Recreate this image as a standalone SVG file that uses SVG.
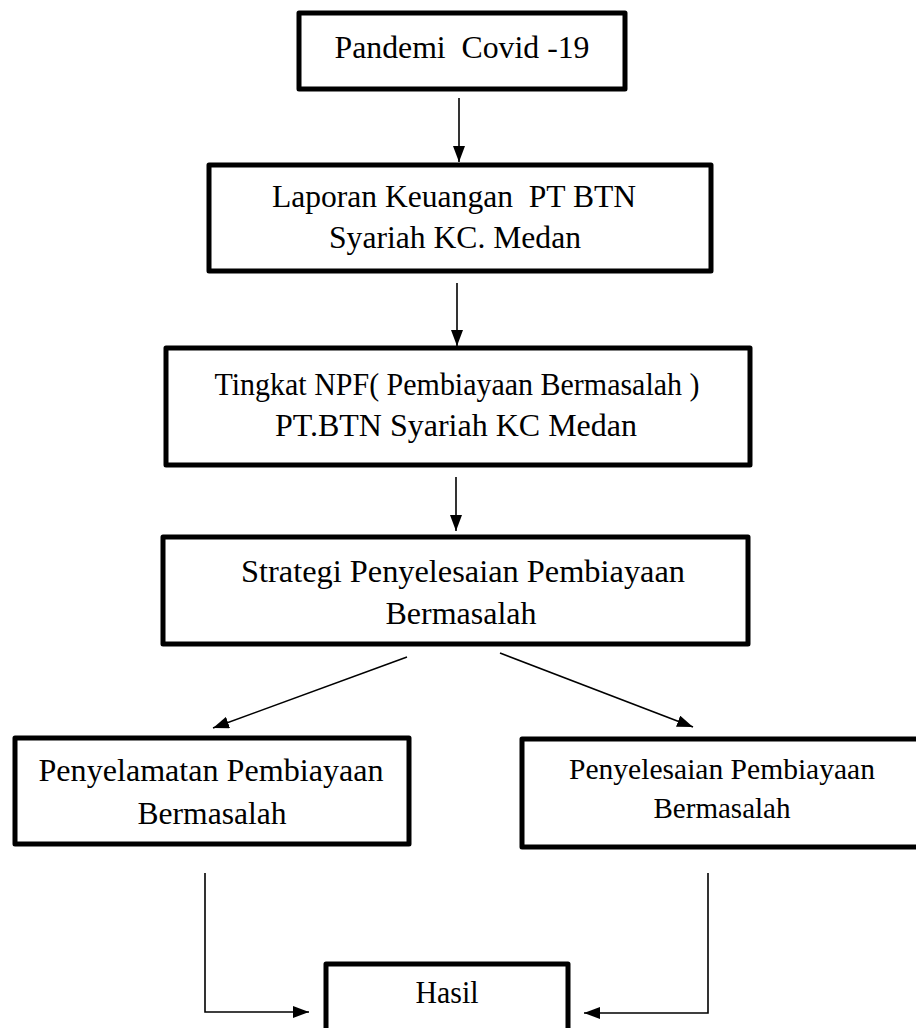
<svg xmlns="http://www.w3.org/2000/svg" width="916" height="1028" viewBox="0 0 916 1028">
<style>
.box{fill:#fff;stroke:#000;stroke-width:5;stroke-linejoin:round}
.t{font-family:"Liberation Serif","Times New Roman",serif;font-size:32px;fill:#000;text-anchor:middle;white-space:pre}
.s2{font-size:30px}
.c{fill:none;stroke:#000;stroke-width:1.6}
</style>
<defs>
<marker id="ah" viewBox="0 0 16 12" refX="16" refY="6" markerWidth="16" markerHeight="12" markerUnits="userSpaceOnUse" orient="auto">
<path d="M0,0 L16,6 L0,12 Z" fill="#000"/>
</marker>
</defs>
<rect width="916" height="1028" fill="#fff"/>
<g id="connectors">
<line class="c" x1="459" y1="98" x2="459" y2="162" marker-end="url(#ah)"/>
<line class="c" x1="457" y1="283" x2="457" y2="346" marker-end="url(#ah)"/>
<line class="c" x1="456" y1="477" x2="456" y2="531" marker-end="url(#ah)"/>
<line class="c" x1="407" y1="657" x2="213" y2="728" marker-end="url(#ah)"/>
<line class="c" x1="500" y1="653" x2="693" y2="727" marker-end="url(#ah)"/>
<polyline class="c" points="205,873 205,1012 309,1012" marker-end="url(#ah)"/>
<polyline class="c" points="708,873 708,1013 584,1013" marker-end="url(#ah)"/>
</g>
<g id="n1">
<rect class="box" x="299" y="13" width="326" height="76"/>
<text class="t" x="462" y="58" textLength="255" lengthAdjust="spacingAndGlyphs">Pandemi  Covid -19</text>
</g>
<g id="n2">
<rect class="box" x="209" y="165" width="502" height="106"/>
<text class="t" x="454" y="207" textLength="364" lengthAdjust="spacingAndGlyphs">Laporan Keuangan  PT BTN</text>
<text class="t" x="455" y="248" textLength="252" lengthAdjust="spacingAndGlyphs">Syariah KC. Medan</text>
</g>
<g id="n3">
<rect class="box" x="166" y="348" width="584" height="117"/>
<text class="t" x="457" y="395" textLength="485" lengthAdjust="spacingAndGlyphs">Tingkat NPF( Pembiayaan Bermasalah )</text>
<text class="t" x="456" y="436" textLength="362" lengthAdjust="spacingAndGlyphs">PT.BTN Syariah KC Medan</text>
</g>
<g id="n4">
<rect class="box" x="163" y="537" width="585" height="107"/>
<text class="t" x="463" y="582" textLength="444" lengthAdjust="spacingAndGlyphs">Strategi Penyelesaian Pembiayaan</text>
<text class="t" x="461" y="624" textLength="151" lengthAdjust="spacingAndGlyphs">Bermasalah</text>
</g>
<g id="n5">
<rect class="box" x="15" y="738" width="394" height="106"/>
<text class="t" x="211" y="781" textLength="345" lengthAdjust="spacingAndGlyphs">Penyelamatan Pembiayaan</text>
<text class="t" x="212" y="824" textLength="149" lengthAdjust="spacingAndGlyphs">Bermasalah</text>
</g>
<g id="n6">
<rect class="box" x="522" y="739" width="400" height="108"/>
<text class="t s2" x="722" y="779" textLength="306" lengthAdjust="spacingAndGlyphs">Penyelesaian Pembiayaan</text>
<text class="t s2" x="722" y="818" textLength="137" lengthAdjust="spacingAndGlyphs">Bermasalah</text>
</g>
<g id="n7">
<rect class="box" x="326" y="964" width="242" height="80"/>
<text class="t" x="447" y="1003" textLength="63" lengthAdjust="spacingAndGlyphs">Hasil</text>
</g>
</svg>
